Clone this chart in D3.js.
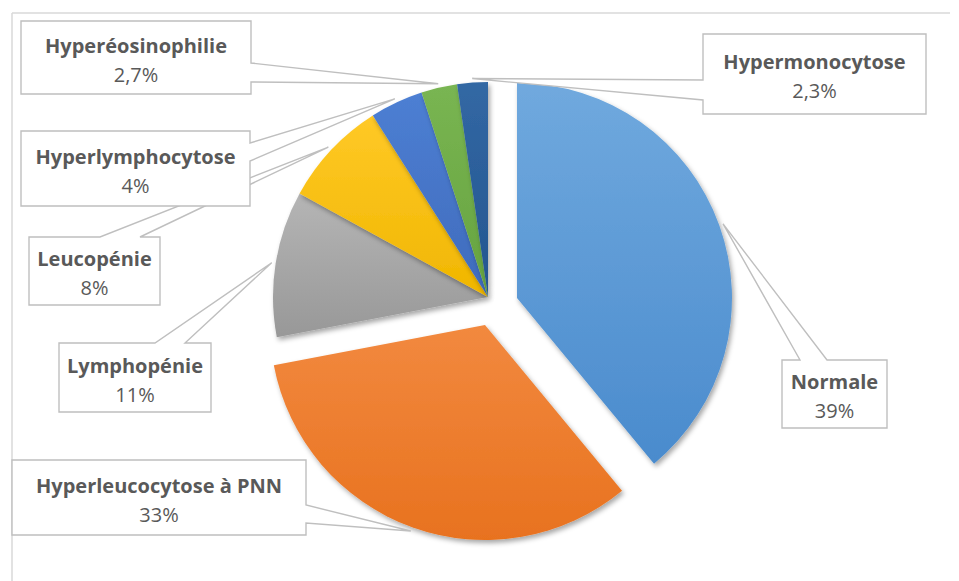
<!DOCTYPE html>
<html>
<head>
<meta charset="utf-8">
<script src="https://cdn.jsdelivr.net/npm/d3@7"></script>
<style>
  html, body { margin: 0; padding: 0; background: #ffffff; }
  svg { display: block; }
  text { font-family: "Open Sans", "Noto Sans", sans-serif; fill: #595959; }
</style>
</head>
<body>
<svg id="chart" width="959" height="581"></svg>
<script>
// Répartition des anomalies de la formule leucocytaire
const categories = ["Normale", "Hyperleucocytose à PNN", "Lymphopénie", "Leucopénie",
                    "Hyperlymphocytose", "Hyperéosinophilie", "Hypermonocytose"];
const values = [39, 33, 11, 8, 4, 2.7, 2.3];

// Slice colours: top and bottom stops of each vertical gradient
const colorsTop    = ["#70a9de", "#f2893f", "#b5b5b5", "#ffc927", "#4d7fd3", "#79b552", "#3268a4"];
const colorsBottom = ["#4a8bcd", "#e8721f", "#989898", "#f0b600", "#3f6bbc", "#66a33f", "#24558f"];

// Detached slices: shift applied to each slice (px)
const explodeShift = [[29, 1], [-3, 28], [0, 0], [0, 0], [0, 0], [0, 0], [0, 0]];

// Callout boxes: rectangle, side carrying the pointer and the pointer base along that side
const callouts = [
  { x: 782, y: 360, w: 105, h: 68, side: "top",   base: [800, 827] },
  { x: 12,  y: 460, w: 294, h: 75, side: "right", base: [505, 523] },
  { x: 59,  y: 343, w: 152, h: 69, side: "top",   base: [155, 185] },
  { x: 29,  y: 237, w: 131, h: 68, side: "top",   base: [100, 140] },
  { x: 21,  y: 131, w: 229, h: 75, side: "right", base: [143, 161] },
  { x: 21,  y: 21,  w: 230, h: 73, side: "right", base: [63, 82] },
  { x: 703, y: 34,  w: 223, h: 80, side: "left",  base: [80, 100] }
];

const cx = 488, cy = 297, radius = 215;

const frLocale = d3.formatLocale({ decimal: ",", thousands: " ", grouping: [3], currency: ["", " €"] });
const fmt = frLocale.format("~g");

const svg = d3.select("#chart");
const defs = svg.append("defs");

// soft drop shadow under the slices
const shadow = defs.append("filter").attr("id", "shadow")
  .attr("x", "-20%").attr("y", "-20%").attr("width", "140%").attr("height", "140%");
shadow.append("feDropShadow")
  .attr("dx", 2).attr("dy", 3).attr("stdDeviation", 2.5)
  .attr("flood-color", "#000").attr("flood-opacity", 0.35);

categories.forEach((c, i) => {
  const g = defs.append("linearGradient").attr("id", "grad" + i)
    .attr("x1", 0).attr("y1", 0).attr("x2", 0).attr("y2", 1);
  g.append("stop").attr("offset", "0%").attr("stop-color", colorsTop[i]);
  g.append("stop").attr("offset", "100%").attr("stop-color", colorsBottom[i]);
});

// chart area frame (top and left edges)
svg.append("line").attr("x1", 12).attr("y1", 13).attr("x2", 950).attr("y2", 13)
  .attr("stroke", "#d9d9d9").attr("stroke-width", 1.5);
svg.append("line").attr("x1", 12).attr("y1", 13).attr("x2", 12).attr("y2", 581)
  .attr("stroke", "#d9d9d9").attr("stroke-width", 1.5);

const data = categories.map((c, i) => ({ name: c, value: values[i], i }));
const pie = d3.pie().value(d => d.value).sort(null);
const arcs = pie(data);
const arc = d3.arc().innerRadius(0).outerRadius(radius);
const tipArc = d3.arc().innerRadius(radius + 4).outerRadius(radius + 4);

const pieG = svg.append("g").attr("transform", `translate(${cx},${cy})`);
pieG.selectAll("path.slice")
  .data(arcs)
  .join("path")
  .attr("class", "slice")
  .attr("transform", d => `translate(${explodeShift[d.index][0]},${explodeShift[d.index][1]})`)
  .attr("d", arc)
  .attr("fill", d => `url(#grad${d.index})`)
  .attr("filter", "url(#shadow)");

// callout outline with its pointer toward the slice
function calloutPath(b, tx, ty) {
  const { x, y, w, h, side, base } = b;
  const p = d3.path();
  if (side === "top") {
    p.moveTo(x, y); p.lineTo(base[0], y); p.lineTo(tx, ty); p.lineTo(base[1], y);
    p.lineTo(x + w, y); p.lineTo(x + w, y + h); p.lineTo(x, y + h);
  } else if (side === "right") {
    p.moveTo(x, y); p.lineTo(x + w, y); p.lineTo(x + w, base[0]); p.lineTo(tx, ty);
    p.lineTo(x + w, base[1]); p.lineTo(x + w, y + h); p.lineTo(x, y + h);
  } else {
    p.moveTo(x, y); p.lineTo(x + w, y); p.lineTo(x + w, y + h); p.lineTo(x, y + h);
    p.lineTo(x, base[1]); p.lineTo(tx, ty); p.lineTo(x, base[0]);
  }
  p.closePath();
  return p.toString();
}

const labelG = svg.append("g");
arcs.forEach(d => {
  const b = callouts[d.index];
  const c = tipArc.centroid(d);
  const tx = cx + c[0] + explodeShift[d.index][0];
  const ty = cy + c[1] + explodeShift[d.index][1];
  const g = labelG.append("g");
  g.append("path")
    .attr("d", calloutPath(b, tx, ty))
    .attr("fill", "#ffffff")
    .attr("stroke", "#bfbfbf")
    .attr("stroke-width", 1.4);
  const mx = b.x + b.w / 2, my = b.y + b.h / 2;
  g.append("text")
    .attr("x", mx).attr("y", my - 5)
    .attr("text-anchor", "middle")
    .attr("font-size", 20).attr("font-weight", "bold")
    .text(d.data.name);
  g.append("text")
    .attr("x", mx).attr("y", my + 24)
    .attr("text-anchor", "middle")
    .attr("font-size", 20)
    .text(fmt(d.data.value) + "%");
});
</script>
</body>
</html>
